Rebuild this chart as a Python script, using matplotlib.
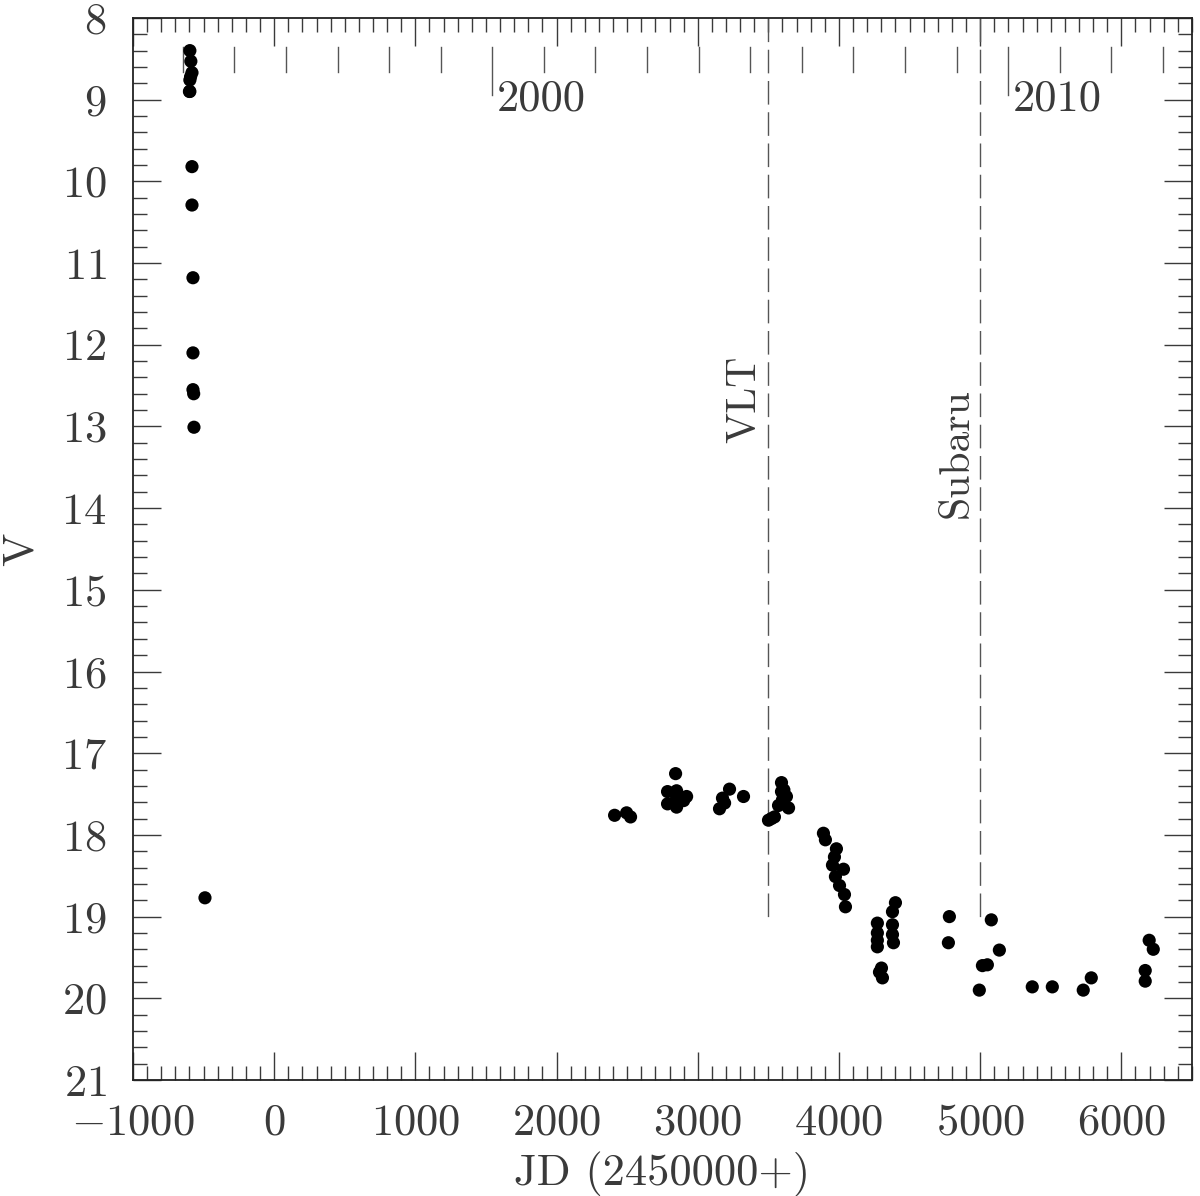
import matplotlib
matplotlib.use("Agg")
import matplotlib.pyplot as plt
from matplotlib.ticker import MultipleLocator
import numpy as np

plt.rcParams['font.family'] = 'cmr10'
plt.rcParams['mathtext.fontset'] = 'cm'
plt.rcParams['axes.formatter.use_mathtext'] = True

# light curve, JD-2450000 and V magnitude
jd = [-597, -590, -582, -597, -592, -600, -597, -582, -582, -575, -575,
      -575, -570, -568, -490,
      2411, 2496, 2524,
      2843, 2786, 2850, 2921, 2786, 2850, 2850, 2900,
      3225, 3175, 3190, 3154, 3324,
      3593, 3593, 3600, 3628, 3572, 3643, 3522, 3501, 3543, 3610,
      3890, 3904, 3982, 3968, 3954, 4032, 3975, 4004, 4039, 4046,
      4272, 4272, 4272, 4272, 4301, 4308, 4287,
      4400, 4379, 4379, 4379, 4386,
      4782, 4775,
      5079, 5136, 5016, 5051, 4994,
      5369, 5511, 5730, 5787,
      6197, 6226, 6169, 6169]
vmag = [8.40, 8.53, 8.67, 8.76, 8.72, 8.90, 8.90, 9.82, 10.29, 11.18, 12.10,
        12.55, 12.60, 13.01, 18.77,
        17.76, 17.73, 17.78,
        17.25, 17.47, 17.46, 17.53, 17.62, 17.66, 17.55, 17.58,
        17.44, 17.55, 17.61, 17.68, 17.53,
        17.36, 17.47, 17.57, 17.53, 17.64, 17.67, 17.80, 17.82, 17.78, 17.45,
        17.98, 18.06, 18.17, 18.27, 18.37, 18.42, 18.51, 18.62, 18.73, 18.88,
        19.08, 19.20, 19.29, 19.37, 19.63, 19.75, 19.68,
        18.83, 18.94, 19.10, 19.22, 19.32,
        19.00, 19.32,
        19.04, 19.41, 19.60, 19.59, 19.90,
        19.86, 19.86, 19.90, 19.75,
        19.29, 19.40, 19.66, 19.79]

# observation epochs
instruments = ['VLT', 'Subaru']
inst_jd = [3500, 5000]
inst_text_x = [3331, 4838]
inst_text_y = [13.2, 14.12]

years = list(range(1994, 2014))
labelled_years = [2000, 2010]

ink = '#3a3a3a'

fig = plt.figure(figsize=(12, 11.96), dpi=100)
ax = fig.add_axes([0.1108, 0.097, 0.8825, 0.888])

ax.scatter(jd, vmag, s=90, color='black', edgecolors='none', zorder=3)

ax.set_xlim(-1000, 6500)
ax.set_ylim(21, 8)

# dashed lines for the spectra epochs
for name, x, tx, ty in zip(instruments, inst_jd, inst_text_x, inst_text_y):
    ax.plot([x, x], [8, 19], color='#555555', lw=1.0, ls=(0, (17, 5.5)))
    ax.text(tx, ty, name, rotation=90, ha='center', va='bottom',
            fontsize=30, color=ink)

# calendar year marks along the top
jd0 = np.datetime64('1995-10-09T12:00')
for y in years:
    x = (np.datetime64(f'{y}-01-01T00:00') - jd0) / np.timedelta64(1, 'D')
    bottom = 8.94 if y in labelled_years else 8.66
    ax.plot([x, x], [8.355, bottom], color='#555555', lw=1.0)
    if y in labelled_years:
        ax.text(x + 30, 9.0, str(y), ha='left', va='center',
                fontsize=32, color=ink)

ax.xaxis.set_major_locator(MultipleLocator(1000))
ax.xaxis.set_minor_locator(MultipleLocator(100))
ax.yaxis.set_major_locator(MultipleLocator(1))
ax.yaxis.set_minor_locator(MultipleLocator(0.2))
ax.tick_params(which='both', direction='in', top=True, right=True,
               color=ink, labelcolor=ink, labelsize=32)
ax.tick_params(which='major', length=20, width=1.0)
ax.tick_params(which='minor', length=10, width=1.0)
ax.tick_params(axis='x', which='major', pad=17)
ax.tick_params(axis='y', which='major', pad=19)
for sp in ax.spines.values():
    sp.set_linewidth(1.3)
    sp.set_color('#222222')

ax.set_xlabel('JD (2450000+)', fontsize=32, color=ink, labelpad=6)
ax.set_ylabel('V', fontsize=32, color=ink, labelpad=14)

plt.savefig('out.png')
